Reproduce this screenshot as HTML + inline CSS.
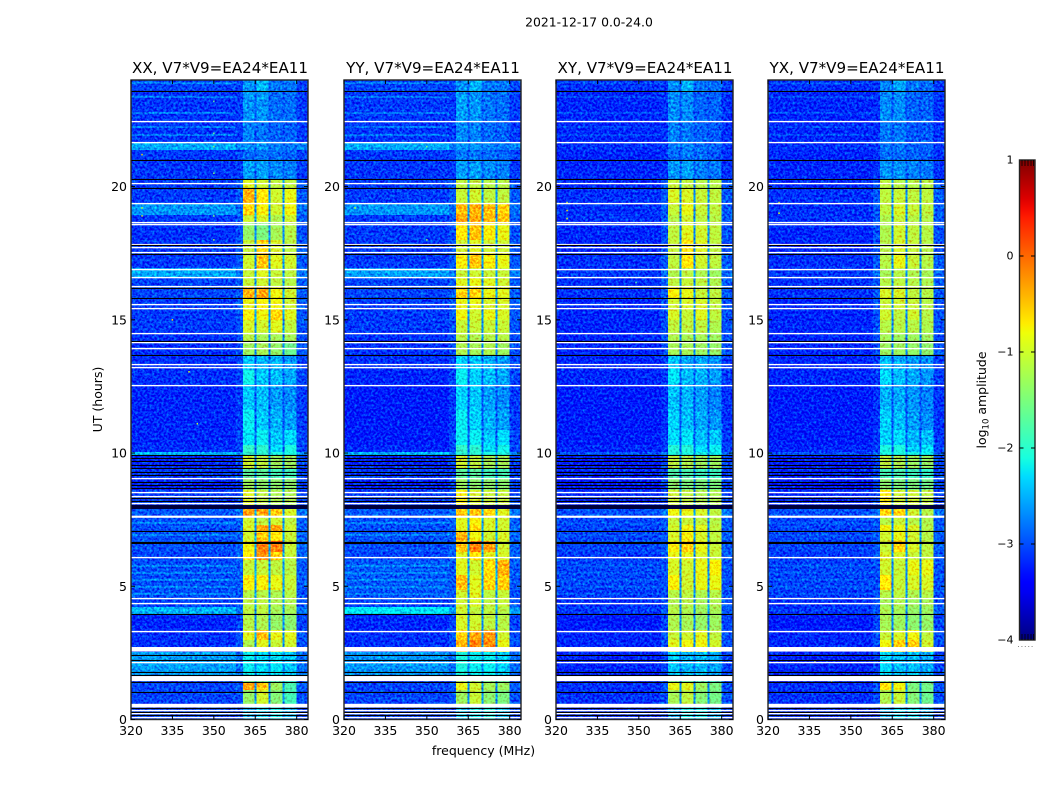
<!DOCTYPE html>
<html lang="en">
<head>
<meta charset="utf-8">
<title>2021-12-17 dynamic spectra</title>
<style>
html,body{margin:0;padding:0;background:#fff;width:1050px;height:800px;overflow:hidden}
svg{display:block}
text{font-family:"DejaVu Sans","Liberation Sans",sans-serif;fill:#000}
</style>
</head>
<body>
<svg id="chart" xmlns="http://www.w3.org/2000/svg" width="1050" height="800" viewBox="0 0 1050 800">
<defs>
<filter id="speckle" x="0" y="0" width="100%" height="100%" color-interpolation-filters="sRGB">
<feTurbulence type="fractalNoise" baseFrequency="0.42" numOctaves="2" seed="7" result="n"/>
<feColorMatrix in="n" type="matrix" values="0 0 0 0 0.5  1 0 0 0 0  0.4 0 0 0 0.3  0 0 0 0 1" result="m"/>
<feComposite in="SourceGraphic" in2="m" operator="arithmetic" k1="0" k2="1" k3="1.1" k4="-0.55"/>
</filter>
<linearGradient id="jet-gradient" x1="0" y1="1" x2="0" y2="0"></linearGradient>
</defs>
<text x="589" y="26.5" font-size="12.4" text-anchor="middle">2021-12-17 0.0-24.0</text>
<text x="483.5" y="755" font-size="12.5" text-anchor="middle">frequency (MHz)</text>
<text x="0" y="0" font-size="12.5" text-anchor="middle" transform="translate(102,399.5) rotate(-90)">UT (hours)</text>
<text x="0" y="0" font-size="12.5" text-anchor="middle" transform="translate(986,400) rotate(-90)">log<tspan font-size="8.5" dy="2.5">10</tspan><tspan dy="-2.5"> amplitude</tspan></text>
<g id="panels"></g>
<g id="colorbar"></g>
</svg>
<script>
// ---------- data: categories, ticks ----------
const panelTitles = ["XX, V7*V9=EA24*EA11", "YY, V7*V9=EA24*EA11", "XY, V7*V9=EA24*EA11", "YX, V7*V9=EA24*EA11"];
const xTicks = [320, 335, 350, 365, 380];
const yTicks = [0, 5, 10, 15, 20];
const colorTicks = [-4, -3, -2, -1, 0, 1];
// frequency bins (MHz): quiet, edge, win1, gap, win2, gap, win3, gap, win4, right
const freqEdges = [320, 358, 360.5, 364.8, 365.5, 369.8, 370.5, 374.9, 375.6, 379.9, 384.1];
// time bins (UT hours), top to bottom
const timeEdges = [24, 23.58, 22.46, 21.67, 21.37, 20.99, 20.28, 19.94, 19.38, 18.93, 18.67, 17.99, 17.54, 16.94, 16.57, 16.23, 15.82, 15.37, 14.99, 14.52, 14.17, 13.68, 13.12, 12.59, 11.61, 10.86, 10.30, 10.04, 9.92, 9.44, 9.06, 8.61, 8.05, 7.90, 7.60, 7.30, 7.07, 6.70, 6.29, 5.98, 5.42, 4.86, 4.56, 4.22, 3.96, 3.36, 2.98, 2.72, 2.53, 1.63, 1.37, 1.11, 0.62, 0.47, 0];
// log10 amplitude per time bin: [quiet, edge/right, win1, win2, win3, win4, gap]
const levelsXX = [
[-3.05,-3.05,-2.65,-2.45,-2.8,-2.8,-2.9],[-3.12,-3.1,-2.65,-2.65,-2.85,-2.85,-2.95],[-3.12,-3.1,-2.75,-2.8,-2.9,-2.9,-3.0],[-2.55,-2.75,-2.7,-2.65,-2.75,-2.8,-2.85],[-3.1,-3.05,-2.85,-2.8,-2.85,-2.9,-3.0],[-3.12,-3.1,-2.6,-2.6,-2.7,-2.75,-2.95],
[-3.1,-2.95,-0.9,-1.0,-1.1,-1.1,-2.65],[-3.1,-2.95,-0.4,-0.7,-1.0,-0.85,-2.65],[-2.65,-2.85,-0.6,-0.75,-1.0,-0.8,-2.65],[-3.1,-2.95,-1.0,-0.95,-1.2,-1.0,-2.65],[-3.15,-3.0,-1.35,-1.5,-1.25,-1.15,-2.7],[-3.1,-2.95,-1.05,-0.6,-0.95,-1.1,-2.65],[-3.1,-2.95,-1.0,-0.5,-0.9,-1.0,-2.65],[-2.55,-2.8,-1.05,-0.9,-1.05,-1.1,-2.6],[-3.05,-2.95,-1.05,-1.0,-1.1,-1.15,-2.65],[-3.05,-2.95,-0.4,-0.35,-0.8,-1.0,-2.6],[-3.1,-2.95,-0.85,-0.75,-0.8,-1.0,-2.65],[-3.1,-2.95,-0.75,-0.8,-0.6,-0.9,-2.65],[-3.1,-3.0,-0.95,-1.0,-0.9,-1.1,-2.65],[-3.15,-3.0,-1.15,-1.25,-1.25,-1.25,-2.7],[-3.15,-3.0,-1.3,-1.25,-1.35,-1.6,-2.75],
[-3.15,-3.05,-2.4,-2.5,-2.5,-2.65,-2.95],[-3.15,-3.05,-2.15,-2.4,-2.45,-2.55,-2.95],[-3.2,-3.1,-2.4,-2.45,-2.6,-2.7,-3.0],[-3.2,-3.1,-2.2,-2.4,-2.5,-2.6,-3.0],[-3.2,-3.05,-2.25,-2.2,-2.4,-2.3,-2.95],[-3.15,-3.05,-1.95,-2.0,-2.3,-2.1,-2.9],
[-2.5,-2.7,-2.0,-2.0,-2.1,-2.1,-2.6],[-3.2,-3.05,-1.0,-1.1,-1.3,-1.3,-2.7],[-3.1,-3.05,-1.7,-1.7,-1.85,-1.85,-2.75],[-3.2,-3.05,-1.3,-1.4,-1.4,-1.4,-2.75],[-3.1,-3.05,-0.9,-1.1,-1.2,-1.2,-2.7],[-3.1,-3.05,-1.5,-1.5,-1.5,-1.5,-2.7],
[-2.95,-2.8,-0.3,-0.35,-0.5,-0.95,-2.5],[-3.0,-2.9,-1.0,-1.1,-1.0,-1.1,-2.6],[-3.0,-2.9,-0.95,-0.35,-0.35,-1.0,-2.6],[-3.0,-2.9,-1.0,-0.55,-0.7,-1.05,-2.6],[-3.0,-2.9,-0.8,-0.15,-0.1,-1.05,-2.55],[-3.05,-2.9,-0.7,-0.2,-0.6,-1.05,-2.6],[-3.0,-2.95,-1.05,-1.05,-1.1,-1.15,-2.6],[-3.0,-2.95,-0.75,-0.75,-0.85,-1.05,-2.6],[-3.0,-3.0,-1.15,-1.15,-1.2,-1.15,-2.65],[-3.05,-3.0,-1.1,-1.1,-1.2,-1.2,-2.65],[-2.5,-2.8,-1.1,-1.1,-1.25,-1.25,-2.6],[-3.2,-3.05,-1.15,-1.2,-1.35,-1.4,-2.7],[-3.15,-3.0,-0.9,-0.45,-0.85,-0.9,-2.65],[-3.15,-3.0,-1.2,-0.9,-1.05,-1.0,-2.65],[-3.15,-3.0,-1.2,-0.9,-1.05,-1.0,-2.65],
[-2.6,-2.85,-2.2,-2.3,-2.25,-2.4,-2.7],[-3.1,-3.0,-1.5,-1.5,-1.8,-2.0,-2.7],[-3.05,-2.95,-0.3,-0.5,-1.3,-1.8,-2.7],[-3.05,-3.0,-1.35,-1.0,-1.45,-1.85,-2.7],[-3.05,-3.0,-1.35,-1.0,-1.45,-1.85,-2.7],[-3.05,-3.05,-2.5,-2.3,-2.2,-2.5,-2.85]
];
const levelsYY = [
[-3.05,-3.05,-2.65,-2.5,-2.8,-2.8,-2.9],[-3.1,-3.1,-2.6,-2.65,-2.8,-2.85,-2.95],[-3.12,-3.1,-2.7,-2.75,-2.85,-2.9,-3.0],[-2.55,-2.75,-2.65,-2.65,-2.75,-2.8,-2.85],[-3.1,-3.05,-2.8,-2.8,-2.85,-2.9,-3.0],[-3.12,-3.1,-2.6,-2.6,-2.7,-2.75,-2.95],
[-3.1,-2.95,-1.1,-1.1,-1.15,-1.15,-2.65],[-3.1,-2.95,-1.05,-1.0,-1.1,-1.1,-2.65],[-2.65,-2.85,-0.45,-0.4,-0.45,-0.55,-2.65],[-3.1,-2.95,-0.35,-0.35,-0.45,-0.5,-2.65],[-3.1,-3.0,-0.7,-0.5,-0.75,-0.85,-2.65],[-3.1,-2.95,-1.0,-0.9,-1.0,-1.0,-2.65],[-3.1,-2.95,-0.75,-0.5,-0.75,-0.85,-2.65],[-2.6,-2.8,-1.05,-1.0,-1.05,-1.05,-2.6],[-3.05,-2.95,-0.9,-0.85,-0.9,-1.0,-2.65],[-3.05,-2.95,-0.6,-0.6,-0.85,-0.9,-2.6],[-3.1,-2.95,-0.85,-0.85,-0.95,-0.95,-2.65],[-3.1,-2.95,-0.8,-1.0,-0.85,-0.95,-2.65],[-3.1,-3.0,-1.05,-1.05,-1.05,-1.05,-2.65],[-3.15,-3.0,-1.15,-1.2,-1.15,-1.15,-2.7],[-3.15,-3.0,-1.2,-1.25,-1.2,-1.3,-2.75],
[-3.15,-3.05,-2.35,-2.4,-2.5,-2.6,-2.95],[-3.2,-3.05,-2.2,-2.35,-2.45,-2.55,-2.95],[-3.25,-3.1,-2.35,-2.4,-2.6,-2.7,-3.0],[-3.25,-3.1,-2.2,-2.35,-2.5,-2.6,-3.0],[-3.25,-3.05,-2.2,-2.2,-2.4,-2.3,-2.95],[-3.2,-3.05,-1.95,-2.0,-2.25,-2.15,-2.9],
[-2.5,-2.7,-2.0,-2.0,-2.1,-2.1,-2.6],[-3.2,-3.05,-1.0,-1.1,-1.25,-1.25,-2.7],[-3.1,-3.05,-1.7,-1.7,-1.85,-1.85,-2.75],[-3.2,-3.05,-1.3,-1.4,-1.4,-1.4,-2.75],[-3.1,-3.05,-0.75,-0.95,-1.05,-1.05,-2.7],[-3.1,-3.05,-1.5,-1.5,-1.5,-1.5,-2.7],
[-2.95,-2.8,-0.5,-0.5,-0.6,-0.9,-2.5],[-3.0,-2.9,-0.9,-0.75,-0.95,-1.0,-2.6],[-3.0,-2.9,-0.9,-0.65,-0.95,-1.0,-2.6],[-3.0,-2.9,-0.4,-0.8,-1.0,-0.95,-2.6],[-3.0,-2.9,-0.5,-0.15,-0.3,-1.0,-2.55],[-3.05,-2.9,-0.9,-0.7,-0.9,-0.95,-2.6],[-2.95,-2.95,-0.9,-1.0,-0.65,-0.4,-2.6],[-2.95,-2.95,-0.45,-0.9,-0.6,-0.55,-2.6],[-3.0,-3.0,-1.0,-0.9,-1.1,-1.05,-2.65],[-3.05,-3.0,-1.0,-0.95,-1.1,-1.05,-2.65],[-2.25,-2.6,-1.0,-1.1,-1.1,-1.15,-2.6],[-3.2,-3.05,-0.95,-1.0,-1.1,-1.15,-2.7],[-3.15,-3.0,-0.6,-0.35,-0.25,-1.0,-2.65],[-3.15,-3.0,-0.4,-0.15,-0.2,-0.85,-2.65],[-3.15,-3.0,-0.4,-0.15,-0.2,-0.85,-2.65],
[-2.65,-2.85,-2.1,-2.2,-2.2,-2.35,-2.7],[-3.1,-3.0,-1.2,-1.3,-1.5,-1.6,-2.7],[-3.05,-2.95,-0.85,-1.0,-1.25,-1.3,-2.7],[-3.05,-3.0,-1.3,-1.05,-1.4,-1.5,-2.7],[-3.05,-3.0,-1.3,-1.05,-1.4,-1.5,-2.7],[-3.05,-3.05,-2.4,-2.2,-2.1,-2.4,-2.85]
];
const levelsXY = [
[-3.15,-3.1,-2.7,-2.5,-2.8,-2.85,-2.95],[-3.2,-3.15,-2.7,-2.7,-2.9,-2.9,-3.0],[-3.2,-3.15,-2.75,-2.8,-2.9,-2.95,-3.0],[-3.15,-3.1,-2.8,-2.75,-2.85,-2.9,-2.95],[-3.2,-3.15,-2.85,-2.8,-2.85,-2.95,-3.0],[-3.2,-3.15,-2.65,-2.6,-2.75,-2.8,-2.95],
[-3.2,-2.95,-1.05,-1.1,-1.15,-1.15,-2.7],[-3.15,-2.95,-0.95,-0.95,-1.05,-1.1,-2.7],[-3.15,-2.95,-1.05,-0.85,-1.05,-1.1,-2.7],[-3.15,-2.95,-1.15,-1.0,-1.1,-1.15,-2.7],[-3.2,-3.0,-1.1,-0.9,-1.0,-1.1,-2.75],[-3.2,-3.0,-1.05,-0.7,-0.9,-1.1,-2.7],[-3.15,-2.95,-1.1,-0.7,-1.0,-1.1,-2.7],[-3.1,-2.85,-1.2,-1.1,-1.2,-1.3,-2.65],[-3.15,-2.95,-1.1,-1.05,-1.1,-1.2,-2.7],[-3.15,-2.95,-0.75,-0.85,-1.05,-1.1,-2.7],[-3.2,-3.0,-1.0,-0.95,-0.95,-1.1,-2.7],[-3.2,-3.0,-0.95,-1.05,-0.9,-1.1,-2.7],[-3.2,-3.0,-1.1,-1.1,-1.1,-1.2,-2.7],[-3.2,-3.0,-1.2,-1.25,-1.25,-1.3,-2.75],[-3.2,-3.0,-1.25,-1.25,-1.3,-1.35,-2.75],
[-3.2,-3.1,-2.4,-2.55,-2.55,-2.7,-2.95],[-3.2,-3.1,-2.25,-2.45,-2.5,-2.6,-2.95],[-3.25,-3.15,-2.45,-2.5,-2.6,-2.75,-3.0],[-3.25,-3.15,-2.35,-2.45,-2.55,-2.65,-3.0],[-3.25,-3.1,-2.3,-2.25,-2.45,-2.4,-2.95],[-3.2,-3.1,-2.05,-2.05,-2.3,-2.2,-2.95],
[-3.0,-2.85,-2.1,-2.1,-2.15,-2.2,-2.65],[-3.25,-3.05,-1.1,-1.2,-1.3,-1.3,-2.7],[-3.2,-3.05,-1.8,-1.8,-1.9,-1.9,-2.75],[-3.25,-3.05,-1.4,-1.5,-1.5,-1.5,-2.75],[-3.2,-3.05,-1.0,-1.1,-1.2,-1.2,-2.7],[-3.2,-3.05,-1.5,-1.5,-1.5,-1.5,-2.7],
[-3.0,-2.8,-0.8,-0.85,-0.95,-1.1,-2.55],[-3.05,-2.95,-1.05,-1.05,-1.1,-1.15,-2.7],[-3.05,-2.95,-1.0,-0.8,-0.9,-1.1,-2.7],[-3.05,-2.95,-0.95,-0.75,-0.95,-1.1,-2.7],[-3.05,-2.95,-0.75,-0.55,-0.85,-1.05,-2.65],[-3.1,-2.95,-0.85,-0.85,-0.95,-1.05,-2.7],[-3.05,-3.0,-0.95,-1.0,-0.85,-0.75,-2.7],[-3.05,-3.0,-0.75,-1.0,-0.85,-0.85,-2.7],[-3.1,-3.0,-1.15,-1.1,-1.2,-1.15,-2.7],[-3.15,-3.0,-1.2,-1.15,-1.25,-1.2,-2.7],[-3.1,-2.95,-1.15,-1.2,-1.3,-1.25,-2.7],[-3.25,-3.05,-1.2,-1.25,-1.35,-1.3,-2.75],[-3.2,-3.0,-1.05,-1.0,-0.9,-1.1,-2.7],[-3.2,-3.0,-0.9,-0.8,-0.8,-1.0,-2.7],[-3.2,-3.0,-0.9,-0.8,-0.8,-1.0,-2.7],
[-3.2,-3.05,-2.4,-2.5,-2.45,-2.55,-2.8],[-3.2,-3.05,-1.5,-1.6,-1.8,-1.9,-2.8],[-3.15,-3.0,-0.85,-0.9,-1.3,-1.5,-2.7],[-3.15,-3.0,-1.25,-1.1,-1.45,-1.55,-2.7],[-3.15,-3.0,-1.25,-1.1,-1.45,-1.55,-2.7],[-3.15,-3.1,-2.5,-2.2,-2.2,-2.5,-2.85]
];
const levelsYX = [
[-3.15,-3.1,-2.75,-2.55,-2.8,-2.85,-2.95],[-3.2,-3.15,-2.7,-2.7,-2.9,-2.9,-3.0],[-3.2,-3.15,-2.8,-2.8,-2.95,-2.95,-3.0],[-3.15,-3.1,-2.8,-2.8,-2.9,-2.9,-2.95],[-3.2,-3.15,-2.85,-2.85,-2.9,-2.95,-3.0],[-3.2,-3.15,-2.65,-2.65,-2.75,-2.8,-2.95],
[-3.2,-2.95,-1.1,-1.15,-1.15,-1.15,-2.7],[-3.15,-2.95,-1.1,-1.05,-1.1,-1.1,-2.7],[-3.15,-2.95,-1.1,-0.95,-1.05,-1.1,-2.7],[-3.15,-2.95,-1.2,-1.05,-1.15,-1.15,-2.7],[-3.2,-3.0,-1.2,-1.0,-1.1,-1.15,-2.75],[-3.2,-3.0,-1.15,-0.95,-1.05,-1.15,-2.7],[-3.15,-2.95,-1.15,-0.85,-1.05,-1.15,-2.7],[-3.1,-2.85,-1.25,-1.15,-1.2,-1.25,-2.65],[-3.15,-2.95,-1.15,-1.1,-1.15,-1.2,-2.7],[-3.15,-2.95,-0.95,-0.95,-1.1,-1.15,-2.7],[-3.2,-3.0,-1.05,-1.0,-1.05,-1.15,-2.7],[-3.2,-3.0,-1.0,-1.1,-1.0,-1.15,-2.7],[-3.2,-3.0,-1.15,-1.15,-1.15,-1.2,-2.7],[-3.2,-3.0,-1.25,-1.3,-1.3,-1.3,-2.75],[-3.2,-3.0,-1.3,-1.3,-1.35,-1.4,-2.75],
[-3.2,-3.1,-2.45,-2.55,-2.6,-2.7,-2.95],[-3.2,-3.1,-2.3,-2.45,-2.55,-2.65,-2.95],[-3.25,-3.15,-2.5,-2.55,-2.65,-2.75,-3.0],[-3.25,-3.15,-2.35,-2.45,-2.6,-2.7,-3.0],[-3.25,-3.1,-2.35,-2.3,-2.5,-2.45,-2.95],[-3.2,-3.1,-2.1,-2.1,-2.35,-2.25,-2.95],
[-3.0,-2.85,-2.1,-2.1,-2.15,-2.2,-2.65],[-3.25,-3.05,-1.1,-1.2,-1.3,-1.35,-2.7],[-3.2,-3.05,-1.85,-1.8,-1.9,-1.95,-2.75],[-3.25,-3.05,-1.4,-1.5,-1.5,-1.55,-2.75],[-3.2,-3.05,-0.7,-1.0,-1.0,-1.1,-2.7],[-3.2,-3.05,-1.5,-1.5,-1.5,-1.5,-2.7],
[-3.0,-2.8,-0.55,-0.6,-1.0,-1.15,-2.55],[-3.05,-2.95,-1.15,-1.05,-1.15,-1.2,-2.7],[-3.05,-2.95,-0.8,-0.85,-0.95,-1.15,-2.7],[-3.05,-2.95,-1.0,-0.85,-1.0,-1.15,-2.7],[-3.05,-2.95,-1.05,-0.6,-0.95,-1.1,-2.65],[-3.1,-2.95,-0.95,-0.95,-1.05,-1.1,-2.7],[-3.05,-3.0,-1.0,-1.05,-0.85,-0.85,-2.7],[-3.05,-3.0,-0.7,-1.05,-0.95,-0.95,-2.7],[-3.1,-3.0,-1.15,-1.1,-1.2,-1.15,-2.7],[-3.15,-3.0,-1.25,-1.2,-1.3,-1.25,-2.7],[-3.1,-2.95,-1.2,-1.25,-1.35,-1.3,-2.7],[-3.25,-3.05,-1.25,-1.3,-1.4,-1.35,-2.75],[-3.2,-3.0,-1.05,-0.95,-0.8,-1.1,-2.7],[-3.2,-3.0,-0.8,-0.55,-0.55,-1.0,-2.7],[-3.2,-3.0,-0.8,-0.55,-0.55,-1.0,-2.7],
[-3.2,-3.05,-2.3,-2.45,-2.45,-2.55,-2.8],[-3.2,-3.05,-1.4,-1.6,-1.8,-1.9,-2.8],[-3.15,-3.0,-0.7,-0.8,-1.5,-1.55,-2.7],[-3.15,-3.0,-1.2,-1.05,-1.45,-1.6,-2.7],[-3.15,-3.0,-1.2,-1.05,-1.45,-1.6,-2.7],[-3.15,-3.1,-2.5,-2.3,-2.25,-2.5,-2.85]
];
const panelLevels = [levelsXX, levelsYY, levelsXY, levelsYX];
// faint narrow-band channels across the quiet band (UT hours) and their level per panel
const rfiHours = [23.88, 23.36, 22.76, 22.23, 21.93, 7.37, 6.92, 5.76, 5.50, 5.23, 4.97, 4.71];
const rfiLevels = [-2.5, -2.5, -2.85, -2.85];
// flagged (no data) integrations, UT hours
const whiteLines = [22.46, 21.67, 20.13, 19.38, 18.67, 18.59, 17.86, 17.73, 17.54, 16.90, 16.60, 16.27, 15.59, 15.44, 14.52, 14.15, 13.94, 13.34, 13.23, 12.57, 9.06, 8.54, 8.40, 8.12, 6.10, 4.56, 4.37, 3.34, 2.14, 0.36, 0.24, 0.11];
const blackLines = [23.58, 20.99, 20.28, 19.94, 17.82, 17.47, 16.19, 15.82, 14.20, 13.68, 9.92, 9.81, 9.70, 9.55, 9.44, 9.29, 9.18, 8.91, 8.80, 8.69, 8.31, 8.20, 7.07, 6.68, 6.62, 3.96, 2.42, 2.23, 1.78, 1.67, 1.41, 1.05, 0.43, 0.30, 0.17, 0.02];
const whiteBlocks = [[7.65, 7.57], [2.72, 2.55], [1.63, 1.44], [0.59, 0.45]];
const blackBlocks = [[8.05, 7.90]];
// isolated bright pixels: [panel, MHz, UT hours, level]
const hotPixels = [[0,350,23.2,-1.7],[0,350,22.0,-1.6],[0,350,21.5,-1.4],[0,350,20.5,-1.5],[0,350,18.9,-1.5],[0,350,18.0,-1.3],[0,324,19.2,-1.0],[0,324,18.9,-1.0],[0,324,21.2,-0.6],[0,341,13.05,-0.9],[0,344,11.1,-1.1],[0,335,15.0,-0.6],[1,350,21.5,-1.5],[1,350,18.0,-1.3],[1,324,19.2,-1.0],[2,324,19.4,-0.9],[2,324,19.1,-0.7],[2,324,18.8,-0.9],[2,349,17.9,-1.6],[2,349,16.4,-1.7],[3,324,19.4,-0.9],[3,324,19.0,-0.8],[3,337,2.2,-1.1],[3,343,1.45,-0.7]];

// ---------- axes ----------
const plotLeft = [131, 344, 556, 768];
const plotWidth = 177;
const plotTop = 80;
const plotBottom = 719.5;
const freqMin = 320, freqMax = 384.1, timeMin = 0, timeMax = 24;
const xScale = (panel, f) => plotLeft[panel] + (f - freqMin) / (freqMax - freqMin) * plotWidth;
const yScale = t => plotBottom - (t - timeMin) / (timeMax - timeMin) * (plotBottom - plotTop);
const cbLeft = 1019.5, cbRight = 1035, cbTop = 160, cbBottom = 640;
const cbScale = v => cbBottom - (v + 4) / 5 * (cbBottom - cbTop);

function ramp(x, pts) {
  for (let i = 1; i < pts.length; i++) {
    if (x <= pts[i][0]) {
      const a = pts[i - 1], b = pts[i];
      return a[1] + (b[1] - a[1]) * (x - a[0]) / (b[0] - a[0]);
    }
  }
  return pts[pts.length - 1][1];
}
function jet(level) {
  const n = Math.max(0, Math.min(1, (level + 4) / 5));
  const r = ramp(n, [[0,0],[0.35,0],[0.66,1],[0.89,1],[1,0.5]]);
  const g = ramp(n, [[0,0],[0.125,0],[0.375,1],[0.64,1],[0.91,0],[1,0]]);
  const b = ramp(n, [[0,0.5],[0.11,1],[0.34,1],[0.65,0],[1,0]]);
  return 'rgb(' + Math.round(r * 255) + ',' + Math.round(g * 255) + ',' + Math.round(b * 255) + ')';
}
const NS = 'http://www.w3.org/2000/svg';
function mk(tag, parent, attrs) {
  const el = document.createElementNS(NS, tag);
  for (const k in attrs) el.setAttribute(k, attrs[k]);
  parent.appendChild(el);
  return el;
}
// which level column each frequency bin reads: quiet, edge, w1, gap, w2, gap, w3, gap, w4, right
const columnMap = [0, 1, 2, 6, 3, 6, 4, 6, 5, 1];

const panelsRoot = document.getElementById('panels');
const defs = document.querySelector('defs');
panelTitles.forEach((title, p) => {
  const g = mk('g', panelsRoot, {});
  
  
  const clip = mk('clipPath', defs, { id: 'clip' + p });
  mk('rect', clip, { x: plotLeft[p], y: plotTop, width: plotWidth, height: plotBottom - plotTop });
  const clipG = mk('g', g, { 'clip-path': 'url(#clip' + p + ')' });
  
  
  const heat = mk('g', clipG, { filter: 'url(#speckle)', 'shape-rendering': 'crispEdges' });
  
  
  const levels = panelLevels[p];
  levels.forEach((row, r) => {
    const y0 = yScale(timeEdges[r]), y1 = yScale(timeEdges[r + 1]);
    columnMap.forEach((c, k) => {
      const x0 = xScale(p, freqEdges[k]), x1 = xScale(p, freqEdges[k + 1]);
      const cell = mk('rect', heat, { x: x0, y: y0, width: x1 - x0 + 0.3, height: y1 - y0 + 0.3, fill: jet(row[c]) });
      
      
    });
  });
  rfiHours.forEach(t => {
    const x0 = xScale(p, freqMin), x1 = xScale(p, freqEdges[1]);
    const line = mk('rect', heat, { x: x0, y: yScale(t) - 0.5, width: x1 - x0, height: 1, fill: jet(rfiLevels[p]) });
    
    
  });
  hotPixels.filter(h => h[0] === p).forEach(h => {
    const dot = mk('rect', clipG, { x: xScale(p, h[1]) - 0.7, y: yScale(h[2]) - 0.8, width: 1.4, height: 1.6, fill: jet(h[3]) });
    
    
  });
  const flags = mk('g', clipG, {});
  
  
  const drawLine = (t, fill, name, h) => {
    const f = mk('rect', flags, { x: plotLeft[p], y: Math.round(yScale(t)) - 0.1, width: plotWidth, height: h, fill: fill });
    
    
  };
  const drawBlock = (b, fill, name) => {
    const f = mk('rect', flags, { x: plotLeft[p], y: yScale(b[0]), width: plotWidth, height: yScale(b[1]) - yScale(b[0]), fill: fill });
    
    
  };
  whiteBlocks.forEach(b => drawBlock(b, '#fff', 'flagged-block-white'));
  blackBlocks.forEach(b => drawBlock(b, '#00003c', 'flagged-block-dark'));
  whiteLines.forEach(t => drawLine(t, '#fff', 'flagged-line-white', 1.4));
  blackLines.forEach(t => drawLine(t, '#000', 'flagged-line-black', 1.1));

  const frame = mk('rect', g, { x: plotLeft[p], y: plotTop, width: plotWidth, height: plotBottom - plotTop, fill: 'none', stroke: '#222', 'stroke-width': 1.4 });
  
  
  const tickLen = 4;
  xTicks.forEach(v => {
    const x = xScale(p, v);
    const t1 = mk('line', g, { x1: x, x2: x, y1: plotBottom, y2: plotBottom - tickLen, stroke: '#000', 'stroke-width': 1 });
    
    
    const t2 = mk('line', g, { x1: x, x2: x, y1: plotTop, y2: plotTop + tickLen, stroke: '#000', 'stroke-width': 1 });
    
    
    const lab = mk('text', g, { x: x, y: 735, 'font-size': 12.5, 'text-anchor': 'middle' });
    lab.textContent = v;
    
    
  });
  yTicks.forEach(v => {
    const y = yScale(v);
    const t1 = mk('line', g, { x1: plotLeft[p], x2: plotLeft[p] + tickLen, y1: y, y2: y, stroke: '#000', 'stroke-width': 1 });
    
    
    const t2 = mk('line', g, { x1: plotLeft[p] + plotWidth, x2: plotLeft[p] + plotWidth - tickLen, y1: y, y2: y, stroke: '#000', 'stroke-width': 1 });
    
    
    const lab = mk('text', g, { x: plotLeft[p] - 4, y: y + 4.5, 'font-size': 12.5, 'text-anchor': 'end' });
    lab.textContent = v;
    
    
  });
  const ttl = mk('text', g, { x: plotLeft[p] + plotWidth / 2 + 0.5, y: 73, 'font-size': 15.1, 'text-anchor': 'middle' });
  ttl.textContent = title;
  
  
});

// ---------- colorbar ----------
const grad = document.getElementById('jet-gradient');
for (let i = 0; i <= 50; i++) {
  mk('stop', grad, { offset: (i / 50 * 100) + '%', 'stop-color': jet(-4 + i / 10) });
}
const cb = document.getElementById('colorbar');
const cbBar = mk('rect', cb, { x: cbLeft, y: cbTop, width: cbRight - cbLeft, height: cbBottom - cbTop, fill: 'url(#jet-gradient)', stroke: '#222', 'stroke-width': 1.4 });


colorTicks.forEach(v => {
  const y = cbScale(v);
  if (v > -4 && v < 1) {
    const a = mk('line', cb, { x1: cbLeft, x2: cbLeft + 4, y1: y, y2: y, stroke: '#000' });
    
    
    const b = mk('line', cb, { x1: cbRight, x2: cbRight - 4, y1: y, y2: y, stroke: '#000' });
    
    
  }
  const lab = mk('text', cb, { x: 1013.5, y: y + 3.5, 'font-size': 11, 'text-anchor': 'end' });
  lab.textContent = v < 0 ? '\u2212' + Math.abs(v) : String(v);
  
  
});
[1022, 1025, 1028, 1031, 1033.5].forEach(x => {
  const a = mk('line', cb, { x1: x, x2: x, y1: cbTop, y2: cbTop + 6, stroke: '#000', 'stroke-width': 0.8 });
  
  
  const b = mk('line', cb, { x1: x, x2: x, y1: cbBottom, y2: cbBottom - 6, stroke: '#000', 'stroke-width': 0.8 });
  
  
});
const dots = mk('line', cb, { x1: 1018, x2: 1035, y1: 646.5, y2: 646.5, stroke: '#888', 'stroke-width': 1, 'stroke-dasharray': '1 2.4' });


</script>
</body>
</html>
